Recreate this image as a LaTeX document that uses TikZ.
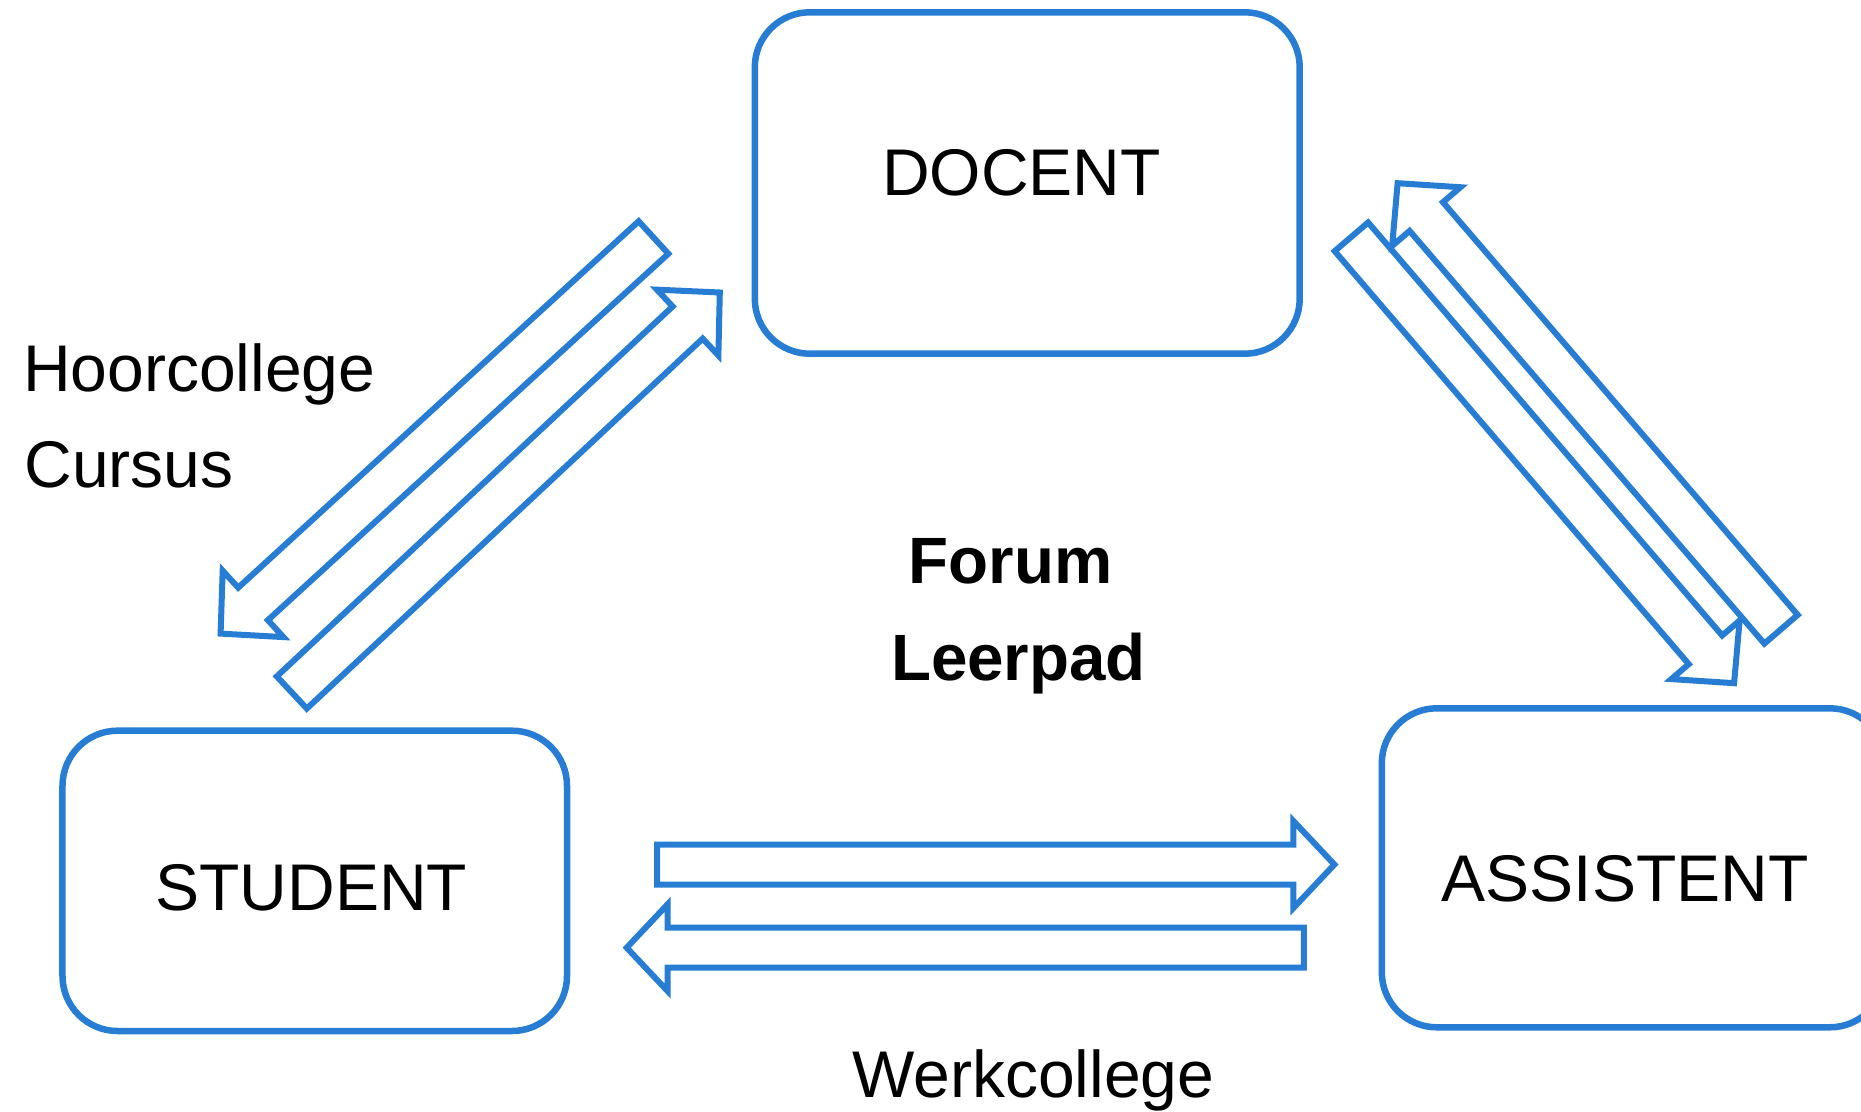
\documentclass[tikz,border=0pt]{standalone}
\usepackage{fontspec}
\setmainfont{Liberation Sans}
\usetikzlibrary{calc}
\definecolor{ablue}{RGB}{38,125,211}
\tikzset{
  boxstyle/.style={draw=ablue, line width=2.6pt, rounded corners=22pt, inner sep=0pt, fill=none},
  arrowline/.style={draw=ablue, line width=2.4pt, line join=miter},
  txt/.style={inner sep=0pt, font=\fontsize{26.4}{31}\selectfont, text=black},
  btxt/.style={inner sep=0pt, font=\fontsize{26.2}{31}\selectfont\bfseries, text=black},
}
% #1 tail, #2 tip, #3 half shaft width (pt), #4 head length (pt), #5 head half width (pt)
\newcommand\blockarrow[5]{%
  \coordinate (#1-#2-base) at ($(#2)!#4!(#1)$);
  \draw[arrowline] ($(#1)!#3!90:(#2)$) -- ($(#1-#2-base)!#3!-90:(#1)$)
     -- ($(#1-#2-base)!#5!-90:(#1)$) -- (#2)
     -- ($(#1-#2-base)!#5!90:(#1)$) -- ($(#1-#2-base)!#3!90:(#1)$)
     -- ($(#1)!#3!-90:(#2)$) -- cycle;
}
\begin{document}
\begin{tikzpicture}[x=0.4pt, y=-0.4pt]
\useasboundingbox (0,0) rectangle (1861,1112);

% boxes
\node[boxstyle, minimum width=217.96pt, minimum height=136.56pt] (docent) at (1027.25,183) {};
\node[boxstyle, minimum width=201.8pt, minimum height=120.12pt] (student) at (314.75,880.85) {};
\node[boxstyle, minimum width=201.2pt, minimum height=127.6pt] (assistent) at (1633.3,867.8) {};

% box labels
\node[txt, anchor=base] (docentlabel) at (1021.4,196) {DOCENT};
\node[txt, anchor=base] (studentlabel) at (311.4,910) {STUDENT};
\node[txt, anchor=base] (assistentlabel) at (1625,901.7) {ASSISTENT};

% free labels
\node[txt, anchor=base west] (hoor) at (22.5,391.8) {Hoorcollege};
\node[txt, anchor=base west] (cursus) at (24,487.9) {Cursus};
\node[btxt, anchor=base] (forum) at (1010.8,583.3) {Forum};
\node[btxt, anchor=base] (leerpad) at (1018.5,680) {Leerpad};
\node[txt, anchor=base west] (werk) at (852,1097.7) {Werkcollege};

% arrow end points
\coordinate (aTail) at (653.5,237.5);
\coordinate (aTip) at (220.6,633.6);
\coordinate (bTail) at (291.8,692.5);
\coordinate (bTip) at (719.8,292.5);
\coordinate (cTail) at (1781,629.25);
\coordinate (cTip) at (1397.6,183.2);
\coordinate (dTail) at (1351.4,236.8);
\coordinate (dTip) at (1734.1,683.2);
\coordinate (eTail) at (657.2,864.5);
\coordinate (eTip) at (1334.4,864.5);
\coordinate (fTail) at (1303.8,947.7);
\coordinate (fTip) at (626.7,947.7);

\blockarrow{aTail}{aTip}{8.8pt}{17.6pt}{18pt}
\blockarrow{bTail}{bTip}{8.8pt}{17.6pt}{18pt}
\blockarrow{cTail}{cTip}{8.8pt}{17.6pt}{18pt}
\blockarrow{dTail}{dTip}{8.8pt}{17.6pt}{18pt}
\blockarrow{eTail}{eTip}{8pt}{16.4pt}{17.4pt}
\blockarrow{fTail}{fTip}{8pt}{16.4pt}{17.4pt}
\end{tikzpicture}
\end{document}
